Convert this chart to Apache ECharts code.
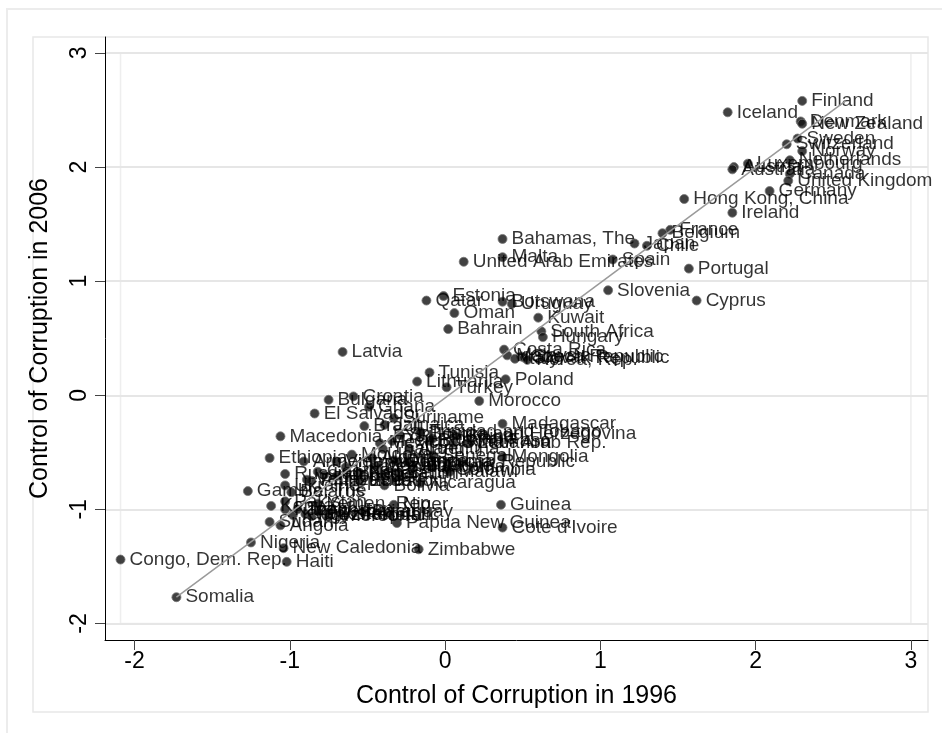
<!DOCTYPE html>
<html>
<head>
<meta charset="utf-8">
<script src="https://cdn.jsdelivr.net/npm/echarts@6/dist/echarts.min.js"></script>
<style>
  html, body { margin: 0; padding: 0; background: #fff; }
  #chart { width: 942px; height: 733px; }
</style>
</head>
<body>
<div id="chart"></div>
<script>
// country labels and control of corruption scores
const countries = [
  'Finland', 'Iceland', 'Denmark', 'New Zealand', 'Sweden', 'Switzerland', 'Norway', 'Netherlands',
  'Luxembourg', 'Austria', 'Australia', 'Canada', 'United Kingdom', 'Germany', 'Hong Kong, China', 'Ireland',
  'France', 'Belgium', 'Bahamas, The', 'Japan', 'Chile', 'Malta', 'United Arab Emirates', 'Spain',
  'Portugal', 'Slovenia', 'Cyprus', 'Estonia', 'Qatar', 'Botswana', 'Uruguay', 'Oman',
  'Kuwait', 'Bahrain', 'South Africa', 'Hungary', 'Costa Rica', 'Malaysia', 'Czech Republic', 'Slovak Republic',
  'Korea, Rep.', 'Italy', 'Latvia', 'Tunisia', 'Lithuania', 'Turkey', 'Poland', 'Morocco',
  'Croatia', 'Bulgaria', 'Ghana', 'El Salvador', 'Suriname', 'Brazil', 'Jamaica', 'Mexico',
  'Peru', 'Macedonia, FYR', 'Bosnia and Herzegovina', 'Madagascar', 'Burkina Faso', 'Syrian Arab Rep.', 'Sri Lanka', 'Argentina',
  'Thailand', 'Dominican Republic', 'Mongolia', 'Senegal', 'India', 'Colombia', 'Albania', 'Nicaragua',
  'Ethiopia', 'Armenia', 'Georgia', 'Russian Federation', 'Vietnam', 'Guatemala', 'Honduras', 'Ecuador',
  'Bolivia', 'Philippines', 'Ukraine', 'Belarus', 'Gambia, The', 'Pakistan', 'Kenya', 'Kazakhstan',
  'Tajikistan', 'Cameroon', 'Azerbaijan', 'Paraguay', 'Niger', 'Papua New Guinea', 'Sudan', 'Angola',
  'Nigeria', 'New Caledonia', 'Haiti', 'Congo, Dem. Rep.', 'Somalia', 'Guinea', "Cote d'Ivoire", 'Zimbabwe',
  'Trinidad and Tobago', 'China', 'Lebanon', 'Romania', 'Tanzania', 'Uganda', 'Malawi', 'Indonesia',
  'Venezuela', 'Kyrgyz Republic', 'Uzbekistan', 'Mozambique', 'Benin', 'Nepal', 'Moldova', 'Algeria',
  'Yemen, Rep.', 'Togo'
];
const cc1996 = [
  2.30, 1.82, 2.29, 2.30, 2.27, 2.20, 2.30, 2.22,
  1.95, 1.86, 1.85, 2.22, 2.21, 2.09, 1.54, 1.85,
  1.45, 1.40, 0.37, 1.22, 1.30, 0.37, 0.12, 1.08,
  1.57, 1.05, 1.62, -0.01, -0.12, 0.37, 0.43, 0.06,
  0.60, 0.02, 0.62, 0.63, 0.38, 0.40, 0.49, 0.51,
  0.53, 0.45, -0.66, -0.10, -0.18, 0.01, 0.39, 0.22,
  -0.59, -0.75, -0.49, -0.84, -0.33, -0.52, -0.39, -0.42,
  -0.34, -1.06, -0.16, 0.37, -0.10, 0.05, -0.29, -0.23,
  -0.40, -0.31, 0.37, -0.08, -0.21, 0.01, -0.08, -0.16,
  -1.13, -0.91, -0.82, -1.03, -0.70, -0.64, -0.70, -0.55,
  -0.39, -0.86, -1.03, -0.99, -1.27, -1.03, -1.12, -1.03,
  -0.90, -0.86, -0.82, -0.53, -0.33, -0.31, -1.13, -1.06,
  -1.25, -1.04, -1.02, -2.09, -1.73, 0.36, 0.37, -0.17,
  -0.16, 0.07, 0.15, -0.08, -0.24, -0.33, 0.03, -0.78,
  -0.89, -0.98, -0.75, -0.45, -0.30, -0.55, -0.60, -0.47,
  -0.82, -0.95
];
const cc2006 = [
  2.58, 2.48, 2.40, 2.38, 2.25, 2.20, 2.14, 2.06,
  2.03, 2.00, 1.98, 1.94, 1.88, 1.79, 1.72, 1.60,
  1.45, 1.42, 1.37, 1.33, 1.31, 1.21, 1.17, 1.19,
  1.11, 0.92, 0.83, 0.87, 0.83, 0.82, 0.80, 0.72,
  0.68, 0.58, 0.56, 0.51, 0.40, 0.35, 0.34, 0.33,
  0.31, 0.32, 0.38, 0.20, 0.12, 0.07, 0.14, -0.05,
  -0.01, -0.04, -0.10, -0.16, -0.20, -0.27, -0.26, -0.42,
  -0.40, -0.36, -0.34, -0.25, -0.40, -0.42, -0.35, -0.47,
  -0.47, -0.58, -0.54, -0.53, -0.61, -0.65, -0.63, -0.77,
  -0.55, -0.58, -0.67, -0.69, -0.58, -0.63, -0.71, -0.75,
  -0.79, -0.75, -0.79, -0.85, -0.84, -0.93, -0.97, -1.00,
  -1.04, -1.06, -1.02, -1.02, -0.96, -1.12, -1.11, -1.14,
  -1.29, -1.34, -1.46, -1.44, -1.77, -0.96, -1.16, -1.35,
  -0.32, -0.36, -0.42, -0.38, -0.58, -0.57, -0.67, -0.70,
  -0.74, -1.05, -1.05, -0.62, -0.68, -0.68, -0.52, -0.55,
  -0.95, -1.00
];
// fitted line end points
const fitX = [-1.73, 2.58];
const fitY = [-1.77, 2.58];
const xTicks = [-2, -1, 0, 1, 2, 3];
const yTicks = [-2, -1, 0, 1, 2, 3];

const chart = echarts.init(document.getElementById('chart'));
const font = 'Liberation Sans, Arial, sans-serif';

const points = countries.map((c, i) => ({ name: c, value: [cc1996[i], cc2006[i]] }));

const option = {
  animation: false,
  backgroundColor: '#fff',
  grid: { left: 105, top: 37, right: 14, bottom: 93 },
  xAxis: {
    type: 'value',
    min: -2.19, max: 3.11,
    name: 'Control of Corruption in 1996',
    nameLocation: 'middle',
    nameGap: 44,
    nameTextStyle: { fontSize: 25, color: '#000', fontFamily: font },
    axisLine: { onZero: false, lineStyle: { color: '#000', width: 1 } },
    axisTick: { length: 10, customValues: xTicks, lineStyle: { color: '#444' } },
    axisLabel: { fontSize: 23, color: '#000', fontFamily: font, margin: 10, customValues: xTicks },
    splitLine: { show: false }
  },
  yAxis: {
    type: 'value',
    min: -2.145, max: 3.14,
    name: 'Control of Corruption in 2006',
    nameLocation: 'middle',
    nameGap: 52,
    nameRotate: 90,
    nameTextStyle: { fontSize: 25, color: '#000', fontFamily: font },
    axisLine: { show: true, onZero: false, lineStyle: { color: '#000', width: 1 } },
    axisTick: { show: true, length: 10, customValues: yTicks, lineStyle: { color: '#444' } },
    axisLabel: { fontSize: 23, color: '#000', fontFamily: font, margin: 14, rotate: 90, customValues: yTicks },
    splitLine: { show: false }
  },
  series: [
    {
      type: 'scatter',
      data: points,
      symbol: 'circle',
      symbolSize: 9,
      itemStyle: { color: '#111', borderColor: '#777', borderWidth: 1 },
      label: {
        show: true, position: 'right', distance: 4,
        formatter: '{b}', fontSize: 19, color: '#000', fontFamily: font
      },
      markLine: {
        silent: true,
        symbol: 'none',
        label: { show: false },
        lineStyle: { color: '#e6e6e6', width: 2, type: 'solid' },
        data: yTicks.map(v => ({ yAxis: v })),
        z: -1
      },
      z: 2
    },
    {
      type: 'line',
      data: fitX.map((x, i) => [x, fitY[i]]),
      symbol: 'none',
      lineStyle: { color: '#9a9a9a', width: 1.5 },
      z: 3
    }
  ]
};
chart.setOption(option);

// frames round the graph and plot regions
const p0 = chart.convertToPixel({ gridIndex: 0 }, [-2.09, 3]);
const p1 = chart.convertToPixel({ gridIndex: 0 }, [3, -2]);
chart.setOption({
  graphic: [
    { type: 'rect', shape: { x: 7, y: 9, width: 960, height: 760 },
      style: { fill: 'none', stroke: '#ececec', lineWidth: 2 }, z: -10 },
    { type: 'rect', shape: { x: 33, y: 37, width: 895, height: 675 },
      style: { fill: 'none', stroke: '#e8e8e8', lineWidth: 1.5 }, z: -10 },
    { type: 'rect', shape: { x: p0[0], y: p0[1], width: p1[0] - p0[0], height: p1[1] - p0[1] },
      style: { fill: 'none', stroke: '#eeeeee', lineWidth: 1.5 }, z: -10 }
  ]
});
</script>
</body>
</html>
